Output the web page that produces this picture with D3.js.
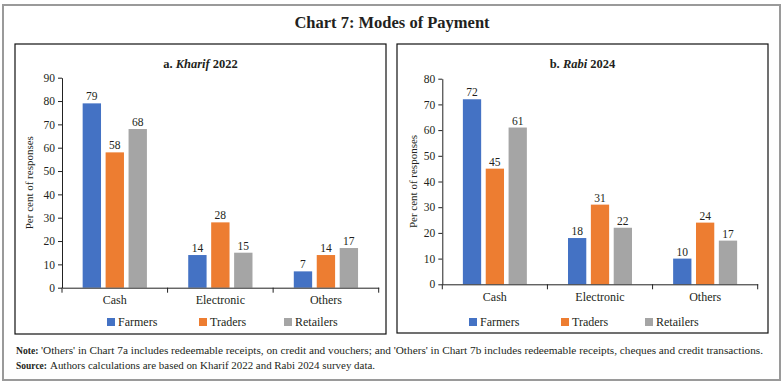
<!DOCTYPE html>
<html>
<head>
<meta charset="utf-8">
<script src="https://cdn.jsdelivr.net/npm/d3@7"></script>
<style>
  body { margin: 0; background: #fff; }
  svg { display: block; font-family: "Liberation Serif", serif; }
</style>
</head>
<body>
<div id="chart"></div>
<script>
// Data
const categories = ['Cash', 'Electronic', 'Others'];
const seriesNames = ['Farmers', 'Traders', 'Retailers'];
const colors = ['#4472C4', '#ED7D31', '#A5A5A5'];

const kharifFarmers = [79, 14, 7];
const kharifTraders = [58, 28, 14];
const kharifRetailers = [68, 15, 17];

const rabiFarmers = [72, 18, 10];
const rabiTraders = [45, 31, 24];
const rabiRetailers = [61, 22, 17];

const kharifTicks = [0, 10, 20, 30, 40, 50, 60, 70, 80, 90];
const rabiTicks = [0, 10, 20, 30, 40, 50, 60, 70, 80];

const width = 784;
const height = 384;
const textColor = '#231f20';

const svg = d3.select('#chart')
  .append('svg')
  .attr('width', width)
  .attr('height', height);

// outer frame
svg.append('rect')
  .attr('x', 3).attr('y', 5)
  .attr('width', 777).attr('height', 375)
  .attr('fill', 'none')
  .attr('stroke', '#9a9a9a')
  .attr('stroke-width', 2);

svg.append('text')
  .attr('x', 392).attr('y', 28)
  .attr('text-anchor', 'middle')
  .attr('font-size', 16.5)
  .attr('font-weight', 'bold')
  .attr('fill', textColor)
  .text('Chart 7: Modes of Payment');

function drawPanel(opts) {
  const { box, axisX, axisEnd, yTop, yBottom, yMax, ticks, series, prefix, italic, suffix, titleY } = opts;

  const g = svg.append('g');

  g.append('rect')
    .attr('x', box.x).attr('y', box.y)
    .attr('width', box.w).attr('height', box.h)
    .attr('fill', 'none')
    .attr('stroke', '#111')
    .attr('stroke-width', 1.2);

  // panel title
  const t = g.append('text')
    .attr('x', box.x + box.w / 2).attr('y', titleY)
    .attr('text-anchor', 'middle')
    .attr('font-size', 12.5)
    .attr('font-weight', 'bold')
    .attr('fill', textColor);
  t.append('tspan').text(prefix + ' ');
  t.append('tspan').attr('font-style', 'italic').text(italic);
  t.append('tspan').text(' ' + suffix);

  const x0 = d3.scaleBand()
    .domain(categories)
    .range([axisX, axisEnd])
    .padding(0);

  const x1 = d3.scaleBand()
    .domain(seriesNames)
    .range([0, x0.bandwidth()])
    .paddingInner(0.2)
    .paddingOuter(0.9);

  const y = d3.scaleLinear()
    .domain([0, yMax])
    .range([yBottom, yTop]);

  // y axis
  const yAxis = g.append('g')
    .attr('transform', `translate(${axisX},0)`)
    .call(d3.axisLeft(y).tickValues(ticks).tickSize(4).tickPadding(3).tickSizeOuter(0));
  yAxis.select('.domain').attr('stroke', '#222');
  yAxis.selectAll('line').attr('stroke', '#222');
  yAxis.selectAll('text')
    .attr('font-family', '"Liberation Serif", serif')
    .attr('font-size', 11.5)
    .attr('fill', textColor);

  // y label
  g.append('text')
    .attr('transform', `translate(${opts.yLabelX},${(yTop + yBottom) / 2}) rotate(-90)`)
    .attr('text-anchor', 'middle')
    .attr('dy', '0.35em')
    .attr('font-size', 11)
    .attr('fill', textColor)
    .text('Per cent of responses');

  // bars
  const rows = categories.map((c, i) => ({
    cat: c,
    vals: seriesNames.map((s, j) => ({ name: s, value: series[j][i], color: colors[j] }))
  }));

  const groups = g.append('g')
    .selectAll('g')
    .data(rows)
    .join('g')
    .attr('transform', d => `translate(${x0(d.cat)},0)`);

  groups.selectAll('rect')
    .data(d => d.vals)
    .join('rect')
    .attr('x', d => x1(d.name))
    .attr('y', d => y(d.value))
    .attr('width', x1.bandwidth())
    .attr('height', d => y(0) - y(d.value))
    .attr('fill', d => d.color);

  groups.selectAll('text')
    .data(d => d.vals)
    .join('text')
    .attr('x', d => x1(d.name) + x1.bandwidth() / 2)
    .attr('y', d => y(d.value) - 3)
    .attr('text-anchor', 'middle')
    .attr('font-size', 11.5)
    .attr('fill', textColor)
    .text(d => d.value);

  // x axis
  const xAxis = g.append('g')
    .attr('transform', `translate(0,${yBottom})`)
    .call(d3.axisBottom(x0).tickSize(0).tickPadding(opts.catPad));
  xAxis.select('.domain').attr('stroke', '#222');
  xAxis.selectAll('text')
    .attr('font-family', '"Liberation Serif", serif')
    .attr('font-size', 12)
    .attr('fill', textColor);

  // boundary ticks
  const bounds = categories.map(c => x0(c)).concat([x0.range()[1]]);
  g.append('g')
    .selectAll('line')
    .data(bounds)
    .join('line')
    .attr('x1', d => d).attr('x2', d => d)
    .attr('y1', yBottom).attr('y2', yBottom + 5)
    .attr('stroke', '#222');

  // legend
  const legend = g.append('g')
    .selectAll('g')
    .data(seriesNames)
    .join('g')
    .attr('transform', (d, i) => `translate(${opts.legendX[i]},${opts.legendY})`);
  legend.append('rect')
    .attr('x', 0).attr('y', -4)
    .attr('width', 8).attr('height', 8)
    .attr('fill', (d, i) => colors[i]);
  legend.append('text')
    .attr('x', 11).attr('y', 0)
    .attr('dy', '0.35em')
    .attr('font-size', 12)
    .attr('fill', textColor)
    .text(d => d);
}

drawPanel({
  box: { x: 15, y: 44, w: 371, h: 290 },
  axisX: 62, axisEnd: 378.7,
  yTop: 77.7, yBottom: 287.7, yMax: 90,
  ticks: kharifTicks,
  series: [kharifFarmers, kharifTraders, kharifRetailers],
  prefix: 'a.', italic: 'Kharif', suffix: '2022',
  titleY: 68, yLabelX: 29, catPad: 8,
  legendX: [107, 199, 284], legendY: 322
});

drawPanel({
  box: { x: 397, y: 44, w: 371, h: 289 },
  axisX: 442.3, axisEnd: 757.7,
  yTop: 78.7, yBottom: 284.3, yMax: 80,
  ticks: rabiTicks,
  series: [rabiFarmers, rabiTraders, rabiRetailers],
  prefix: 'b.', italic: 'Rabi', suffix: '2024',
  titleY: 68, yLabelX: 412.7, catPad: 8,
  legendX: [469, 561, 645], legendY: 322
});

// notes
function footLine(label, body, y, labelEnd, bodyStart, bodyEnd) {
  svg.append('text')
    .attr('x', 16).attr('y', y)
    .attr('font-size', 10.5)
    .attr('font-weight', 'bold')
    .attr('fill', textColor)
    .attr('textLength', labelEnd - 16)
    .attr('lengthAdjust', 'spacingAndGlyphs')
    .text(label);
  svg.append('text')
    .attr('x', bodyStart).attr('y', y)
    .attr('font-size', 10.5)
    .attr('fill', textColor)
    .attr('textLength', bodyEnd - bodyStart)
    .attr('lengthAdjust', 'spacingAndGlyphs')
    .text(body);
}

footLine('Note:', "'Others' in Chart 7a includes redeemable receipts, on credit and vouchers; and 'Others' in Chart 7b includes redeemable receipts, cheques and credit transactions.",
  353.5, 38.5, 41, 763);
footLine('Source:', 'Authors calculations are based on Kharif 2022 and Rabi 2024 survey data.',
  368.5, 47, 50, 375);
</script>
</body>
</html>
